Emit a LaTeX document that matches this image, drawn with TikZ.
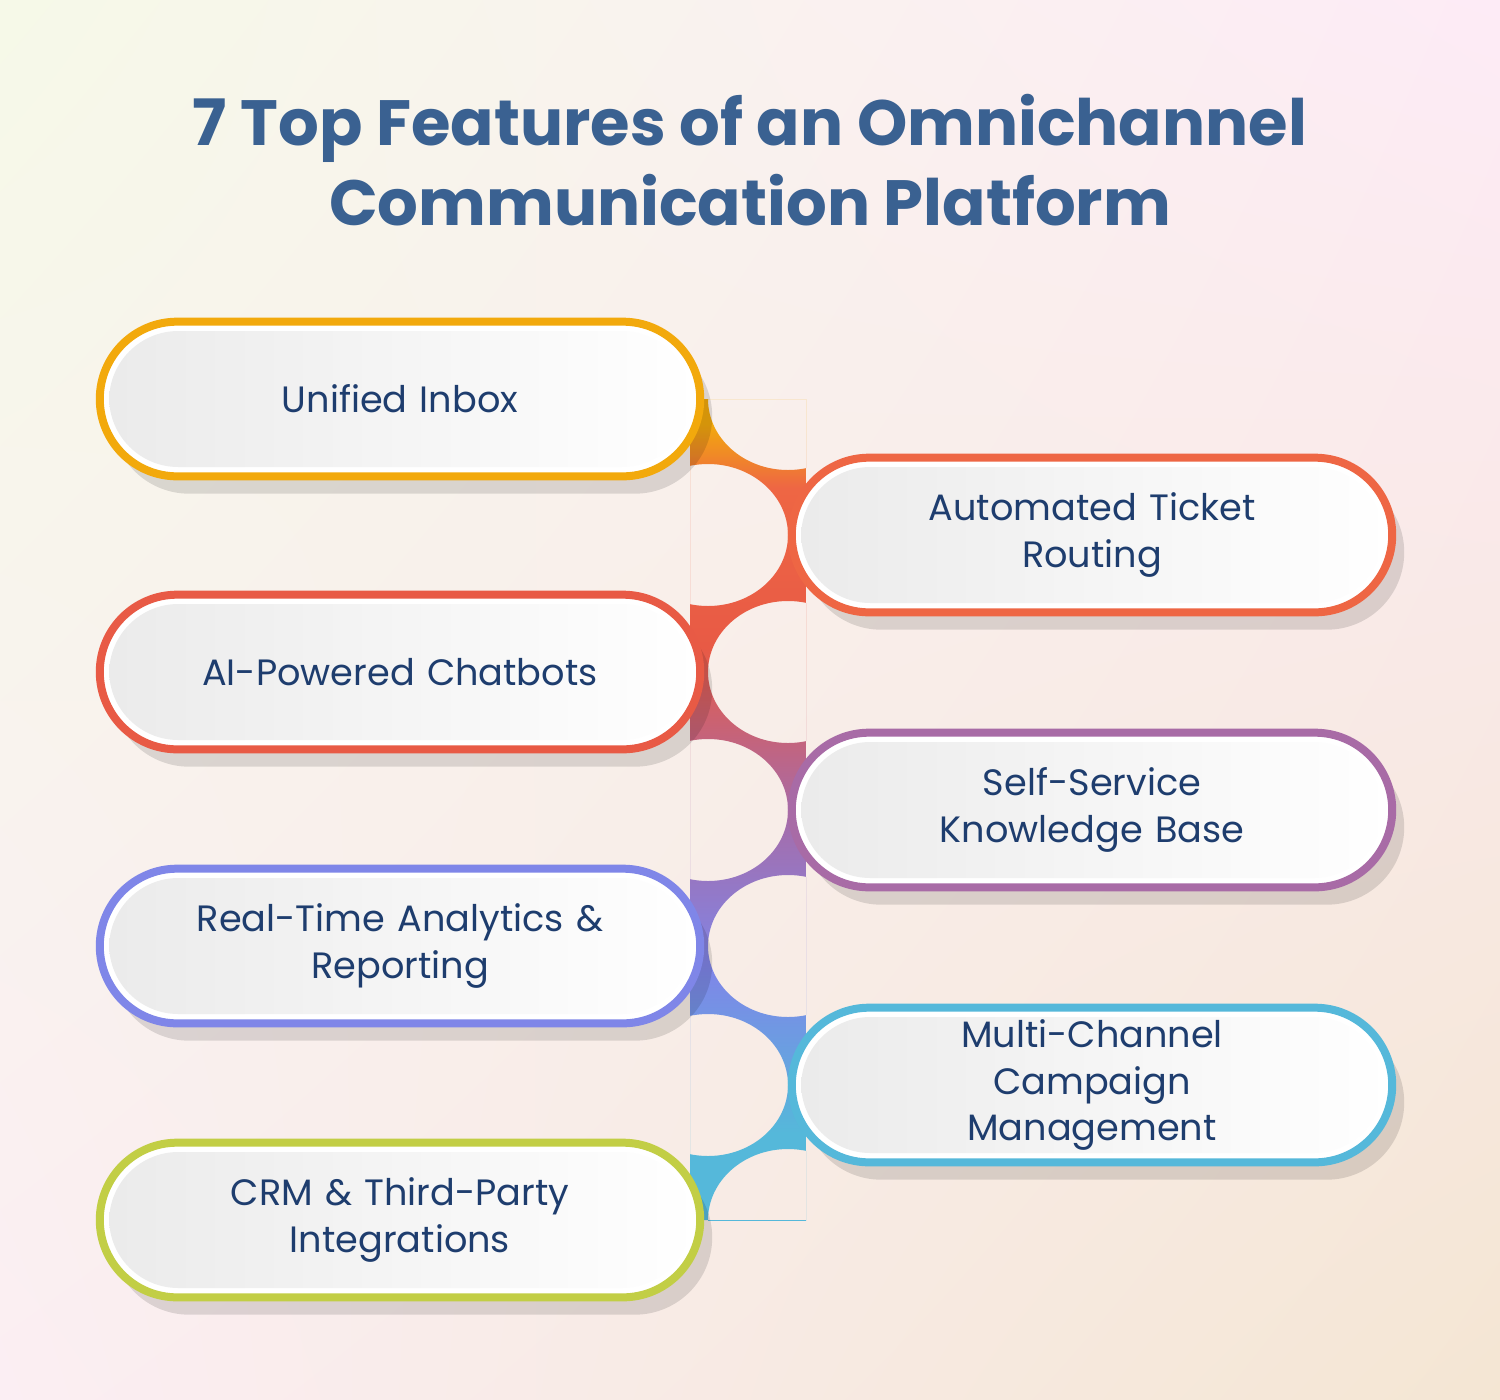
\documentclass[tikz,border=0pt]{standalone}
\usepackage{fontspec}
\setmainfont{Poppins}
\usetikzlibrary{shapes.misc,shadows,calc,shadings}
\definecolor{bgA}{HTML}{F6F9E8}
\definecolor{bgB}{HTML}{FDEBF6}
\definecolor{bgC}{HTML}{FBEEF3}
\definecolor{bgD}{HTML}{F4E6D3}
\definecolor{titleblue}{HTML}{3A6191}
\definecolor{textblue}{HTML}{1E3D6E}
\definecolor{cA}{HTML}{F2A90C}
\definecolor{cB}{HTML}{EE6644}
\definecolor{cC}{HTML}{E85A45}
\definecolor{cD}{HTML}{A86BA6}
\definecolor{cE}{HTML}{7F86E8}
\definecolor{cF}{HTML}{55B8DA}
\definecolor{cG}{HTML}{C2CE45}
\pgfdeclareverticalshading{linkshade}{100bp}{color(0bp)=(cF); color(25bp)=(cF); color(33.2bp)=(cF);
	color(41.7bp)=(cE); color(50bp)=(cD); color(58.4bp)=(cC); color(66.7bp)=(cB); color(70bp)=(cA); color(75bp)=(cA); color(100bp)=(cA)}
\tikzset{every picture/.style={line width=0.75pt}}
\tikzset{
	pill/.style={rounded rectangle, draw=#1, line width=6pt, fill=white,
		minimum width=457pt, minimum height=116pt, text width=340pt, align=center,
		text=textblue, font=\fontsize{27.5}{35}\selectfont,
		drop shadow={shadow xshift=9pt, shadow yshift=-13pt, fill=black, opacity=.12},
		path picture={\shade[left color=black!8, right color=white, rounded corners=52pt]
			($(path picture bounding box.south west)+(7pt,7pt)$) rectangle ($(path picture bounding box.north east)-(7pt,7pt)$);}},
	hole/.style={x radius=80, y radius=71},
}

\begin{document}
\begin{tikzpicture}[x=0.75pt,y=0.75pt,yscale=-1,xscale=1]
	%background
	\shade[upper left=bgA, upper right=bgB, lower left=bgC, lower right=bgD] (0,1400) rectangle (1500,0);
	\useasboundingbox (0,0) rectangle (1500,1400);
	
	%title
	\node (title) at (750,160) [align=center, text=titleblue, font=\fontsize{48}{60}\bfseries\selectfont] {7 Top Features of an Omnichannel\\Communication Platform};
	
	%links
	\begin{scope}
		\clip (690,399) rectangle (806,1220);
		\shade[shading=linkshade, even odd rule] (690,399) rectangle (806,1220)
			(788,399) ellipse [hole] (708,535) ellipse [hole] (788,672) ellipse [hole]
			(708,810) ellipse [hole] (788,946) ellipse [hole] (708,1085) ellipse [hole] (788,1220) ellipse [hole];
	\end{scope}
	
	%features
	\node (ui) at (400,399) [pill=cA] {Unified Inbox};
	\node (atr) at (1092,535) [pill=cB] {Automated Ticket\\Routing};
	\node (aic) at (400,672) [pill=cC] {AI-Powered Chatbots};
	\node (ssk) at (1092,810) [pill=cD] {Self-Service\\Knowledge Base};
	\node (rta) at (400,946) [pill=cE] {Real-Time Analytics \&\\Reporting};
	\node (mcc) at (1092,1085) [pill=cF] {Multi-Channel Campaign\\Management};
	\node (crm) at (400,1220) [pill=cG] {CRM \& Third-Party\\Integrations};
\end{tikzpicture}
\end{document}
